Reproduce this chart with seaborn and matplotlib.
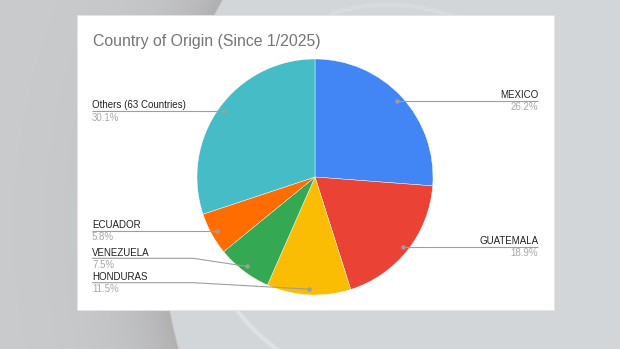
import numpy as np
import matplotlib
matplotlib.use("Agg")
import matplotlib.pyplot as plt
import seaborn as sns
from matplotlib.patches import Rectangle

# ---------------- data ----------------
countries = ["MEXICO", "GUATEMALA", "HONDURAS", "VENEZUELA", "ECUADOR", "Others (63 Countries)"]
shares = [26.2, 18.9, 11.5, 7.5, 5.8, 30.1]
pct_labels = ["26.2%", "18.9%", "11.5%", "7.5%", "5.8%", "30.1%"]
slice_colors = ["#4285F4", "#EA4335", "#FBBC04", "#34A853", "#FF6D01", "#46BDC6"]
title = "Country of Origin (Since 1/2025)"

# ---------------- style ----------------
sns.set_style("white")
plt.rcParams["font.family"] = ["Liberation Sans", "DejaVu Sans"]
palette = sns.color_palette(slice_colors)

W, H = 620, 349
fig = plt.figure(figsize=(W / 100, H / 100), dpi=100)
ax = fig.add_axes([0, 0, 1, 1])

# ---------------- background (studio gray) ----------------
yy, xx = np.mgrid[0:H, 0:W].astype(float) + 0.5
d1 = np.sqrt((xx - 618) ** 2 + (yy - 227) ** 2) - 456
dark = np.array([176, 176, 177], float)
light = np.array([202, 203, 205], float)
inside = np.array([211, 214, 216], float)
t = 1 - np.exp(-np.clip(d1, 0, None) / 45.0)
col_out = dark + (light - dark) * t[..., None]
edge = np.clip((d1 + 1) / 2, 0, 1)[..., None]
bg = inside * (1 - edge) + col_out * edge
d2 = np.sqrt((xx - 388) ** 2 + (yy - 195) ** 2) - 190
zone = ((yy > 300) & (xx < 330)) * 0.75 + ((yy < 16) & (xx > 330) & (xx < 470)) * 0.35
band = (np.exp(-(d2 / 2.2) ** 2) * (d1 < 0) * zone)[..., None]
bg = bg * (1 - band) + np.array([228, 233, 235], float) * band
ax.imshow(bg.astype(np.uint8), extent=(0, W, 0, H), origin="upper",
          interpolation="bilinear", zorder=0)

# white card
ax.add_patch(Rectangle((77, H - 310), 477, 295, facecolor="white",
                       edgecolor="#e4e4e4", linewidth=0.6, zorder=0.5))

# ---------------- pie ----------------
cx, cy, r = 315, H - 177, 118
wedges, _ = ax.pie(shares, colors=palette, startangle=90, counterclock=False,
                   center=(cx, cy), radius=r,
                   wedgeprops=dict(linewidth=0.3, edgecolor="white", zorder=2))

ax.set_xlim(0, W)
ax.set_ylim(0, H)
ax.set_aspect("equal")
ax.axis("off")

# ---------------- labels with leader lines ----------------
# side, fixed label-line y (screen px, None = follow dot)
layout = [("right", None), ("right", None), ("left", 282.7),
          ("left", 258.3), ("left", None), ("left", None)]
x_left, x_right, elbow_x = 92, 538.3, 193
line_col = "#9e9e9e"

for w, name, pct, (side, ly) in zip(wedges, countries, pct_labels, layout):
    th = np.deg2rad((w.theta1 + w.theta2) / 2)
    dx, dy = cx + 0.952 * r * np.cos(th), cy + 0.952 * r * np.sin(th)
    line_y = dy if ly is None else H - ly
    if side == "right":
        xs, ys = [dx, x_right], [dy, dy]
        tx, ha = x_right, "right"
    else:
        if ly is None:
            xs, ys = [x_left, dx], [dy, dy]
        else:
            xs, ys = [x_left, elbow_x, dx], [line_y, line_y, dy]
        tx, ha = x_left, "left"
    ax.plot(xs, ys, color=line_col, lw=0.8, zorder=3, solid_capstyle="butt")
    ax.plot([dx], [dy], "o", color=line_col, ms=2.2, zorder=4)
    ax.text(tx, line_y + 2.8, name, ha=ha, va="baseline", fontsize=7.0,
            color="#222222", zorder=5)
    ax.text(tx, line_y - 9.3, pct, ha=ha, va="baseline", fontsize=7.0,
            color="#a8a8a8", zorder=5)

# ---------------- title ----------------
ax.text(93, H - 45.7, title, ha="left", va="baseline", fontsize=11.4,
        color="#757575", zorder=5)

fig.savefig("out.png", dpi=100)
